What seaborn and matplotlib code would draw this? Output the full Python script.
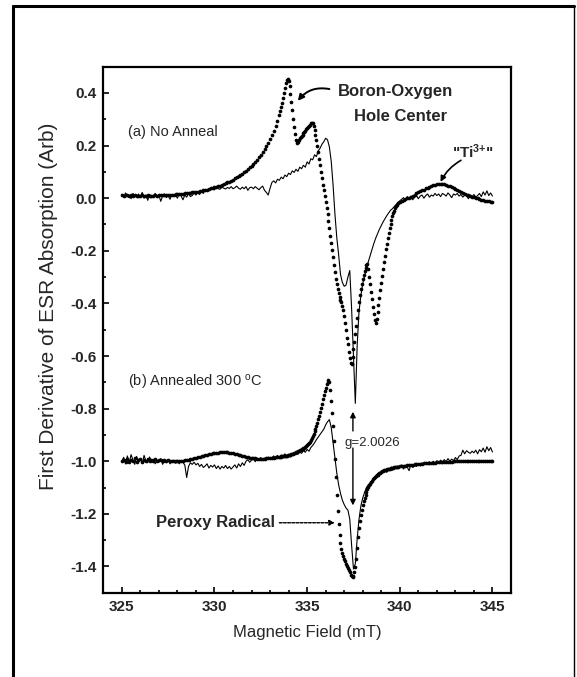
import numpy as np
import pandas as pd
import matplotlib
matplotlib.use("Agg")
import matplotlib.pyplot as plt
from matplotlib.lines import Line2D
from matplotlib.ticker import MultipleLocator, FormatStrFormatter
import seaborn as sns

# ---------------------------------------------------------------------------
# Field grids (mT)
# thin traces: 325.0 .. 345.0 every 0.1 mT
# dense traces: 0.1 mT outside the resonance, 0.05 mT across it
# ---------------------------------------------------------------------------
field_thin = np.round(325.0 + 0.1 * np.arange(201), 2)
field_dense_left = np.round(325.0 + 0.1 * np.arange(85), 2)      # 325.0 - 333.4
field_dense_mid = np.round(333.5 + 0.05 * np.arange(128), 2)     # 333.5 - 339.85
field_dense_right = np.round(339.9 + 0.1 * np.arange(52), 2)     # 339.9 - 345.0

# (a) No anneal -- dense (dotted) trace
a_dense_left = [
    0.012, 0.010, 0.013, 0.011, 0.009, 0.012, 0.010, 0.011, 0.009, 0.010,
    0.010, 0.011, 0.009, 0.010, 0.011, 0.010, 0.009, 0.010, 0.011, 0.010,
    0.011, 0.011, 0.012, 0.012, 0.012, 0.013, 0.013, 0.014, 0.014, 0.015,
    0.015, 0.016, 0.017, 0.017, 0.018, 0.019, 0.020, 0.021, 0.022, 0.023,
    0.024, 0.025, 0.027, 0.028, 0.030, 0.031, 0.033, 0.035, 0.037, 0.039,
    0.041, 0.043, 0.046, 0.048, 0.051, 0.054, 0.057, 0.060, 0.063, 0.067,
    0.071, 0.075, 0.079, 0.083, 0.088, 0.093, 0.098, 0.104, 0.110, 0.117,
    0.124, 0.131, 0.139, 0.147, 0.156, 0.165, 0.175, 0.186, 0.198, 0.211,
    0.225, 0.240, 0.256, 0.274, 0.294,
]
a_dense_mid = [
    0.316, 0.330, 0.345, 0.362, 0.380, 0.400, 0.420, 0.438, 0.449, 0.452,
    0.445, 0.425, 0.395, 0.365, 0.335, 0.300, 0.270, 0.245, 0.222, 0.210,
    0.212, 0.220, 0.228, 0.234, 0.238, 0.242, 0.246, 0.250, 0.255, 0.262,
    0.268, 0.272, 0.276, 0.280, 0.284, 0.287, 0.285, 0.275, 0.258, 0.240,
    0.222, 0.200, 0.175, 0.150, 0.125, 0.100, 0.075, 0.052, 0.030, 0.008,
    -0.015, -0.038, -0.062, -0.088, -0.115, -0.142, -0.170, -0.198, -0.225, -0.255,
    -0.282, -0.306, -0.328, -0.347, -0.362, -0.375, -0.386, -0.396, -0.408, -0.425,
    -0.448, -0.475, -0.502, -0.530, -0.556, -0.583, -0.607, -0.625, -0.630, -0.605,
    -0.575, -0.545, -0.515, -0.485, -0.455, -0.425, -0.395, -0.368, -0.345, -0.325,
    -0.308, -0.292, -0.277, -0.264, -0.255, -0.252, -0.268, -0.298, -0.328, -0.355,
    -0.385, -0.412, -0.440, -0.462, -0.475, -0.460, -0.432, -0.405, -0.378, -0.350,
    -0.322, -0.295, -0.268, -0.243, -0.218, -0.195, -0.173, -0.152, -0.133, -0.115,
    -0.098, -0.083, -0.069, -0.057, -0.047, -0.038, -0.031, -0.025,
]
a_dense_right = [
    -0.020, -0.015, -0.011, -0.007, -0.004, -0.001, 0.002, 0.006, 0.010, 0.014,
    0.018, 0.022, 0.026, 0.030, 0.033, 0.037, 0.040, 0.043, 0.046, 0.049,
    0.051, 0.053, 0.054, 0.055, 0.054, 0.053, 0.051, 0.048, 0.045, 0.042,
    0.038, 0.034, 0.031, 0.027, 0.024, 0.020, 0.017, 0.014, 0.011, 0.008,
    0.005, 0.003, 0.001, -0.001, -0.003, -0.005, -0.007, -0.009, -0.010, -0.012,
    -0.013, -0.015,
]

# (a) No anneal -- thin trace
a_thin = [
    0.015, 0.005, 0.020, 0.008, 0.012, -0.002, 0.018, 0.010, 0.004, 0.016,
    0.006, 0.022, 0.000, 0.012, -0.008, 0.014, 0.004, 0.010, 0.018, 0.002,
    0.012, -0.012, 0.008, 0.016, 0.002, 0.010, -0.004, 0.014, 0.006, 0.012,
    0.000, 0.016, 0.008, -0.006, 0.012, 0.004, 0.018, 0.006, 0.010, 0.020,
    0.012, 0.024, 0.014, 0.028, 0.018, 0.032, 0.030, 0.036, 0.034, 0.038,
    0.032, 0.040, 0.036, 0.034, 0.042, 0.038, 0.035, 0.041, 0.037, 0.044,
    0.036, 0.040, 0.046, 0.038, 0.034, 0.042, 0.036, 0.044, 0.030, 0.040,
    0.042, 0.036, 0.044, 0.038, 0.032, 0.040, 0.046, 0.030, 0.022, 0.012,
    0.038, 0.060, 0.066, 0.058, 0.072, 0.068, 0.080, 0.074, 0.088, 0.082,
    0.095, 0.090, 0.104, 0.098, 0.110, 0.102, 0.118, 0.112, 0.125, 0.118,
    0.138, 0.130, 0.150, 0.146, 0.165, 0.158, 0.180, 0.190, 0.205, 0.215,
    0.228, 0.222, 0.195, 0.140, 0.050, -0.060, -0.150, -0.215, -0.290, -0.320,
    -0.335, -0.330, -0.300, -0.275, -0.420, -0.600, -0.780, -0.560, -0.430, -0.370,
    -0.325, -0.295, -0.268, -0.242, -0.218, -0.195, -0.172, -0.152, -0.135, -0.118,
    -0.104, -0.090, -0.078, -0.066, -0.056, -0.046, -0.040, -0.032, -0.024, -0.016,
    -0.010, -0.004, 0.002, -0.008, 0.006, 0.000, 0.008, -0.006, 0.004, 0.010,
    -0.002, 0.008, 0.012, 0.000, 0.010, 0.016, 0.004, 0.012, 0.008, 0.018,
    0.010, 0.016, 0.006, 0.018, 0.014, 0.008, 0.020, 0.012, 0.002, 0.016,
    0.012, 0.018, 0.008, 0.014, 0.004, 0.012, 0.010, -0.002, 0.012, 0.006,
    0.014, 0.004, 0.010, 0.018, 0.006, 0.024, 0.012, 0.028, 0.010, 0.020,
    0.008,
]

# (b) Annealed 300 C -- dense (dotted) trace
b_dense_left = [
    -1.000, -0.995, -1.004, -0.990, -1.002, -0.994, -1.000, -0.988, -1.003, -0.996,
    -0.992, -1.002, -0.995, -0.999, -0.990, -1.001, -0.996, -0.998, -0.993, -1.000,
    -0.997, -0.995, -1.000, -0.996, -0.999, -0.997, -1.000, -0.998, -0.999, -1.000,
    -1.000, -1.000, -0.999, -0.998, -0.997, -0.996, -0.995, -0.993, -0.991, -0.989,
    -0.987, -0.985, -0.983, -0.981, -0.979, -0.977, -0.975, -0.973, -0.971, -0.970,
    -0.969, -0.968, -0.967, -0.966, -0.966, -0.965, -0.965, -0.966, -0.967, -0.968,
    -0.970, -0.972, -0.974, -0.976, -0.978, -0.980, -0.982, -0.984, -0.985, -0.986,
    -0.987, -0.988, -0.989, -0.990, -0.990, -0.990, -0.990, -0.990, -0.989, -0.989,
    -0.988, -0.987, -0.986, -0.985, -0.984,
]
b_dense_mid = [
    -0.984, -0.983, -0.983, -0.982, -0.982, -0.981, -0.980, -0.980, -0.979, -0.978,
    -0.977, -0.976, -0.975, -0.974, -0.972, -0.971, -0.970, -0.968, -0.966, -0.965,
    -0.963, -0.961, -0.959, -0.957, -0.955, -0.953, -0.950, -0.948, -0.945, -0.942,
    -0.939, -0.935, -0.931, -0.926, -0.920, -0.913, -0.905, -0.896, -0.887, -0.877,
    -0.866, -0.854, -0.841, -0.827, -0.812, -0.797, -0.781, -0.765, -0.749, -0.734,
    -0.720, -0.707, -0.697, -0.691, -0.700, -0.730, -0.770, -0.815, -0.865, -0.925,
    -0.990, -1.060, -1.130, -1.190, -1.240, -1.280, -1.310, -1.333, -1.350, -1.362,
    -1.372, -1.381, -1.389, -1.397, -1.405, -1.414, -1.423, -1.431, -1.437, -1.440,
    -1.435, -1.423, -1.403, -1.372, -1.330, -1.290, -1.255, -1.228, -1.205, -1.185,
    -1.168, -1.153, -1.140, -1.128, -1.117, -1.107, -1.099, -1.092, -1.085, -1.079,
    -1.074, -1.069, -1.065, -1.061, -1.057, -1.054, -1.051, -1.048, -1.045, -1.043,
    -1.041, -1.039, -1.037, -1.035, -1.034, -1.032, -1.031, -1.030, -1.029, -1.028,
    -1.027, -1.026, -1.025, -1.024, -1.023, -1.022, -1.022, -1.021,
]
b_dense_right = [
    -1.021, -1.020, -1.019, -1.018, -1.017, -1.016, -1.015, -1.014, -1.013, -1.012,
    -1.011, -1.010, -1.009, -1.009, -1.008, -1.007, -1.007, -1.006, -1.006, -1.005,
    -1.005, -1.004, -1.004, -1.003, -1.003, -1.003, -1.002, -1.002, -1.002, -1.002,
    -1.001, -1.001, -1.001, -1.001, -1.001, -1.000, -1.000, -1.000, -1.000, -1.000,
    -1.000, -1.000, -1.000, -1.000, -1.000, -1.000, -1.000, -1.000, -1.000, -1.000,
    -1.000, -1.000,
]

# (b) Annealed 300 C -- thin trace
b_thin = [
    -1.000, -0.985, -1.010, -0.980, -1.005, -0.975, -0.995, -1.012, -0.982, -1.000,
    -0.990, -1.008, -0.978, -0.998, -1.006, -0.984, -1.002, -0.992, -1.010, -0.996,
    -1.004, -0.990, -1.012, -0.998, -1.006, -0.994, -1.010, -1.002, -0.996, -1.008,
    -1.000, -1.010, -0.998, -1.004, -1.015, -1.062, -1.020, -1.006, -1.012, -1.004,
    -1.014, -1.008, -1.020, -1.012, -1.024, -1.018, -1.010, -1.026, -1.016, -1.022,
    -1.014, -1.028, -1.018, -1.030, -1.020, -1.026, -1.016, -1.028, -1.020, -1.030,
    -1.022, -1.014, -1.026, -1.010, -1.020, -1.006, -1.016, -1.000, -0.994, -1.004,
    -0.996, -0.990, -1.002, -0.988, -0.996, -0.986, -0.998, -0.988, -0.994, -0.984,
    -0.992, -0.986, -0.980, -0.990, -0.978, -0.986, -0.976, -0.984, -0.972, -0.980,
    -0.974, -0.982, -0.970, -0.976, -0.966, -0.974, -0.964, -0.970, -0.960, -0.966,
    -0.955, -0.962, -0.948, -0.940, -0.930, -0.918, -0.908, -0.898, -0.888, -0.878,
    -0.862, -0.850, -0.842, -0.872, -0.930, -0.990, -1.045, -1.090, -1.122, -1.148,
    -1.165, -1.178, -1.186, -1.220, -1.320, -1.410, -1.390, -1.295, -1.220, -1.170,
    -1.140, -1.118, -1.100, -1.090, -1.082, -1.075, -1.070, -1.066, -1.058, -1.050,
    -1.046, -1.040, -1.036, -1.042, -1.030, -1.026, -1.034, -1.022, -1.028, -1.018,
    -1.024, -1.014, -1.030, -1.016, -1.022, -1.036, -1.012, -1.024, -1.016, -1.020,
    -1.010, -1.018, -1.006, -1.014, -1.004, -1.012, -1.002, -1.010, -1.000, -1.006,
    -0.998, -1.008, -0.996, -1.004, -0.994, -1.002, -0.990, -1.000, -0.992, -0.998,
    -0.986, -0.994, -0.980, -0.978, -0.958, -0.972, -0.960, -0.966, -0.970, -0.962,
    -0.968, -0.958, -0.972, -0.956, -0.964, -0.950, -0.966, -0.945, -0.960, -0.948,
    -0.965,
]

x_ticks = [325, 330, 335, 340, 345]
y_ticks = [0.4, 0.2, 0.0, -0.2, -0.4, -0.6, -0.8, -1.0, -1.2, -1.4]

# ---------------------------------------------------------------------------
field_dense = np.concatenate([field_dense_left, field_dense_mid, field_dense_right])
dense = pd.DataFrame({
    "field": np.concatenate([field_dense, field_dense]),
    "signal": np.concatenate([a_dense_left, a_dense_mid, a_dense_right,
                              b_dense_left, b_dense_mid, b_dense_right]),
    "sample": ["a"] * len(field_dense) + ["b"] * len(field_dense),
})
thin = pd.DataFrame({
    "field": np.concatenate([field_thin, field_thin]),
    "signal": np.concatenate([a_thin, b_thin]),
    "sample": ["a"] * len(field_thin) + ["b"] * len(field_thin),
})

sns.set_theme(style="ticks")
plt.rcParams["font.family"] = ["Liberation Sans", "DejaVu Sans"]
plt.rcParams["axes.unicode_minus"] = False
plt.rcParams["mathtext.default"] = "regular"

fig = plt.figure(figsize=(5.77, 6.77), dpi=100)
ax = fig.add_axes([0.179, 0.1245, 0.7066, 0.777])

for s in ["a", "b"]:
    sns.lineplot(data=thin[thin["sample"] == s], x="field", y="signal",
                 color="black", linewidth=0.8, estimator=None, sort=False,
                 legend=False, ax=ax)
sns.scatterplot(data=dense, x="field", y="signal", color="black", s=7,
                linewidth=0, legend=False, ax=ax, zorder=3)

ax.set_xlim(324, 346)
ax.set_ylim(-1.5, 0.5)
ax.set_xticks(x_ticks)
ax.set_yticks(y_ticks)
ax.xaxis.set_minor_locator(MultipleLocator(1))
ax.yaxis.set_minor_locator(MultipleLocator(0.1))
ax.yaxis.set_major_formatter(FormatStrFormatter("%.1f"))
ax.tick_params(which="both", direction="in", width=1.2, color="black",
               top=False, right=False)
ax.tick_params(which="major", length=4, labelsize=11, pad=5)
ax.tick_params(which="minor", length=2.2)
for lab in ax.get_xticklabels() + ax.get_yticklabels():
    lab.set_fontweight("bold")
for sp in ax.spines.values():
    sp.set_linewidth(1.6)
    sp.set_color("black")

ax.set_xlabel("Magnetic Field (mT)", fontsize=12, labelpad=8)
ax.set_ylabel("First Derivative of ESR Absorption (Arb)", fontsize=15)
ax.yaxis.set_label_coords(-0.112, 0.545)

# sample labels
ax.text(325.35, 0.252, "(a) No Anneal", fontsize=10.5, va="center", ha="left")
ax.text(325.35, -0.70, "(b) Annealed 300 $^{o}$C", fontsize=10.5,
        va="center", ha="left")

# Boron-oxygen hole center
ax.text(339.75, 0.405, "Boron-Oxygen", fontsize=12, fontweight="bold",
        ha="center", va="center")
ax.text(340.05, 0.31, "Hole Center", fontsize=12, fontweight="bold",
        ha="center", va="center")
ax.annotate("", xy=(334.5, 0.37), xytext=(336.2, 0.415),
            arrowprops=dict(arrowstyle="-|>", color="black", lw=1.4,
                            mutation_scale=9,
                            connectionstyle="arc3,rad=0.3",
                            shrinkA=0, shrinkB=0))

# Ti3+
ax.text(343.95, 0.176, '"Ti$^{3{+}}$"', fontsize=11, fontweight="bold",
        ha="center", va="center")
ax.annotate("", xy=(342.2, 0.062), xytext=(343.3, 0.144),
            arrowprops=dict(arrowstyle="-|>", color="black", lw=1.2,
                            mutation_scale=8,
                            connectionstyle="arc3,rad=0.15",
                            shrinkA=0, shrinkB=0))

# g-value marker
ax.text(338.5, -0.93, "g=2.0026", fontsize=9.5, ha="center", va="center")
ax.annotate("", xy=(337.47, -0.812), xytext=(337.47, -0.885),
            arrowprops=dict(arrowstyle="-|>", color="black", lw=1.0,
                            mutation_scale=8, shrinkA=0, shrinkB=0))
ax.annotate("", xy=(337.47, -1.168), xytext=(337.47, -0.95),
            arrowprops=dict(arrowstyle="-|>", color="black", lw=1.0,
                            mutation_scale=8, shrinkA=0, shrinkB=0))

# peroxy radical
ax.text(326.85, -1.234, "Peroxy Radical", fontsize=12, fontweight="bold",
        ha="left", va="center")
ax.annotate("", xy=(336.5, -1.234), xytext=(333.5, -1.234),
            arrowprops=dict(arrowstyle="-|>", color="black", lw=1.0,
                            linestyle=(0, (2, 1)), mutation_scale=8,
                            shrinkA=0, shrinkB=0))

# page frame around the figure
fw = 577.0
fh = 677.0
fig.add_artist(Line2D([13 / fw, 13 / fw], [0, 1 - 6 / fh], color="black",
                      lw=2.2, transform=fig.transFigure))
fig.add_artist(Line2D([13 / fw, 574 / fw], [1 - 6 / fh, 1 - 6 / fh],
                      color="black", lw=2.2, transform=fig.transFigure))
fig.add_artist(Line2D([574 / fw, 574 / fw], [0, 1 - 6 / fh], color="black",
                      lw=1.0, transform=fig.transFigure))

fig.savefig("out.png", dpi=100)
